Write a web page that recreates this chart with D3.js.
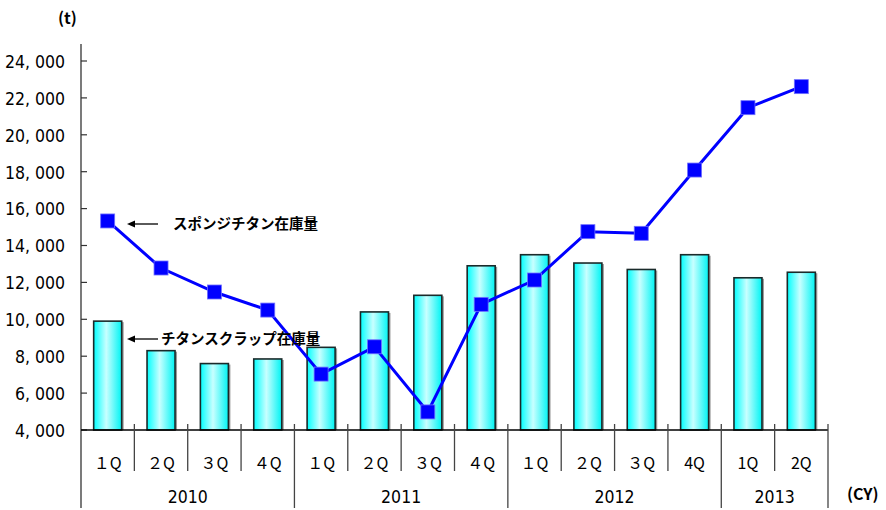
<!DOCTYPE html>
<html>
<head>
<meta charset="utf-8">
<script src="https://cdn.jsdelivr.net/npm/d3@7"></script>
<style>
  html, body { margin: 0; padding: 0; background: #fff; }
  svg { display: block; }
  text { fill: #000; }
</style>
</head>
<body>
<svg id="chart" width="886" height="510"></svg>
<script>
// Quarterly titanium inventory (t)
const quarters = ["１Q","２Q","３Q","４Q","１Q","２Q","３Q","４Q","１Q","２Q","３Q","4Q","1Q","2Q"];
const years = [
  { label: "2010", start: 0, end: 4 },
  { label: "2011", start: 4, end: 8 },
  { label: "2012", start: 8, end: 12 },
  { label: "2013", start: 12, end: 14 }
];
const scrapStock = [9900, 8300, 7600, 7850, 8480, 10400, 11300, 12900, 13500, 13050, 12700, 13500, 12250, 12550];
const spongeStock = [15330, 12780, 11480, 10500, 7030, 8510, 4980, 10810, 12130, 14750, 14660, 18090, 21470, 22610];
const yTicks = [4000, 6000, 8000, 10000, 12000, 14000, 16000, 18000, 20000, 22000, 24000];
const spongeLabel = "スポンジチタン在庫量";
const scrapLabel = "チタンスクラップ在庫量";

const svg = d3.select("#chart");
const plotL = 81, plotR = 828, plotT = 61, plotB = 430;
const narrow = "'Liberation Sans Narrow', 'DejaVu Sans Condensed', 'Noto Sans', sans-serif";
const jp = "'Noto Sans CJK JP', sans-serif";

const x = d3.scaleBand().domain(d3.range(quarters.length)).range([plotL, plotR]).paddingInner(0).paddingOuter(0);
const y = d3.scaleLinear().domain([4000, 24000]).range([plotB, plotT]);

const numFmt = v => d3.format(",")(v).replace(",", ", ");

// gradient for bars
const defs = svg.append("defs");
const grad = defs.append("linearGradient").attr("id", "barGrad").attr("x1", "0").attr("x2", "1").attr("y1", "0").attr("y2", "0");
grad.append("stop").attr("offset", "0%").attr("stop-color", "#00ffff");
grad.append("stop").attr("offset", "45%").attr("stop-color", "#c8ffff");
grad.append("stop").attr("offset", "100%").attr("stop-color", "#00f4f4");

// y axis
const yAxis = d3.axisLeft(y).tickValues(yTicks).tickSize(0).tickPadding(16).tickFormat(numFmt);
const gy = svg.append("g").attr("transform", `translate(${plotL},0)`).call(yAxis);
gy.select(".domain").remove();
gy.selectAll("text").attr("font-family", narrow).attr("font-size", 17.5).attr("fill", "#000").attr("dy", "0.36em");
svg.append("line").attr("x1", plotL).attr("x2", plotL).attr("y1", 44).attr("y2", 508).attr("stroke", "#333").attr("stroke-width", 1.3);
svg.selectAll(".ytick").data(yTicks).join("line")
  .attr("x1", plotL).attr("x2", plotL + 6)
  .attr("y1", d => y(d)).attr("y2", d => y(d))
  .attr("stroke", "#333").attr("stroke-width", 1.2);

// bars
const bw = 28;
const bars = svg.append("g");
bars.selectAll(".shadow").data(scrapStock).join("rect")
  .attr("x", (d, i) => x(i) + x.bandwidth() / 2 - bw / 2 + 2)
  .attr("y", d => y(d) + 1)
  .attr("width", bw).attr("height", d => plotB - y(d) - 1)
  .attr("fill", "#9a9a9a");
bars.selectAll(".bar").data(scrapStock).join("rect")
  .attr("x", (d, i) => x(i) + x.bandwidth() / 2 - bw / 2)
  .attr("y", d => y(d))
  .attr("width", bw).attr("height", d => plotB - y(d))
  .attr("fill", "url(#barGrad)")
  .attr("stroke", "#1a2a2a").attr("stroke-width", 1.6);

// x axis line
svg.append("line").attr("x1", plotL).attr("x2", plotR).attr("y1", plotB).attr("y2", plotB).attr("stroke", "#000").attr("stroke-width", 1.3);

// category separators
const boundaries = d3.range(1, quarters.length + 1);
const yearBounds = new Set(years.map(d => d.end));
svg.selectAll(".sep").data(boundaries).join("line")
  .attr("x1", i => i === quarters.length ? plotR : x(i))
  .attr("x2", i => i === quarters.length ? plotR : x(i))
  .attr("y1", 424)
  .attr("y2", i => yearBounds.has(i) ? 508 : 471)
  .attr("stroke", "#444").attr("stroke-width", 1.3);

// quarter labels
svg.selectAll(".q").data(quarters).join("text")
  .attr("x", (d, i) => x(i) + x.bandwidth() / 2)
  .attr("y", 469)
  .attr("text-anchor", "middle")
  .attr("font-family", jp)
  .attr("font-size", 16)
  .text(d => d);

// year labels
svg.selectAll(".yr").data(years).join("text")
  .attr("x", d => (x(d.start) + (d.end === quarters.length ? plotR : x(d.end))) / 2)
  .attr("y", 503)
  .attr("text-anchor", "middle")
  .attr("font-family", narrow)
  .attr("font-size", 17.5)
  .text(d => d.label);

// sponge line
const line = d3.line().x((d, i) => x(i) + x.bandwidth() / 2).y(d => y(d));
svg.append("path").datum(spongeStock).attr("d", line)
  .attr("fill", "none").attr("stroke", "#0000ff").attr("stroke-width", 3);
const ms = 14;
svg.selectAll(".mk").data(spongeStock).join("rect")
  .attr("x", (d, i) => x(i) + x.bandwidth() / 2 - ms / 2)
  .attr("y", d => y(d) - ms / 2)
  .attr("width", ms).attr("height", ms)
  .attr("fill", "#0000ff").attr("stroke", "#6f6fff").attr("stroke-width", 0.8);

// annotations: leftward arrow + label
function note(text, yPos, tx) {
  svg.append("line").attr("x1", 133).attr("x2", 158).attr("y1", yPos).attr("y2", yPos)
    .attr("stroke", "#000").attr("stroke-width", 1.3);
  svg.append("path").attr("d", `M127,${yPos} L135,${yPos - 3.5} L135,${yPos + 3.5} Z`).attr("fill", "#000");
  svg.append("text").attr("x", tx).attr("y", yPos + 5)
    .attr("font-family", jp).attr("font-weight", "bold")
    .attr("font-size", 14.5).text(text);
}
note(spongeLabel, 224, 173);
note(scrapLabel, 339, 161);

// unit labels
svg.append("text").attr("x", 58).attr("y", 24).attr("font-family", jp)
  .attr("font-weight", "bold").attr("font-size", 16).text("(t)");
svg.append("text").attr("x", 847).attr("y", 500).attr("font-family", jp)
  .attr("font-weight", "bold").attr("font-size", 16).text("(CY)");
</script>
</body>
</html>
